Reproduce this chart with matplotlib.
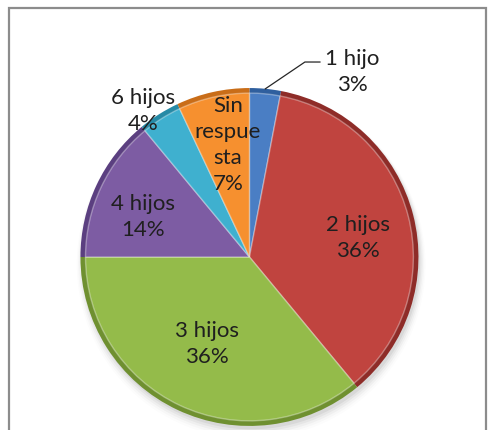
import numpy as np
import matplotlib.pyplot as plt
from matplotlib.patches import Rectangle

# data
labels = ['1 hijo', '2 hijos', '3 hijos', '4 hijos', '6 hijos', 'Sin\nrespue\nsta']
values = [3, 36, 36, 14, 4, 7]
pct_text = ['3%', '36%', '36%', '14%', '4%', '7%']

colors = ['#4a7ec4', '#c0443f', '#94bb4a', '#7d5ca3', '#3fb0cf', '#f6902f']
rims = ['#2f5f9e', '#8e2c28', '#6f9030', '#5b3f80', '#268aa6', '#c96d18']

# label block centres (data units, pie radius = 1)
label_pos = [(0.607, 1.10), (0.642, 0.118), (-0.251, -0.509),
             (-0.630, 0.243), (-0.630, 0.870), (-0.127, 0.669)]

plt.rcParams['font.family'] = ['Lato', 'DejaVu Sans']

fig = plt.figure(figsize=(4.93, 4.31), dpi=100)
ax = fig.add_axes([0, 0, 1, 1])

# soft shadow
for k, a in enumerate(np.linspace(0.05, 0.01, 5)):
    ax.add_patch(plt.Circle((0.01, -0.02 - 0.006 * k), 1.0 + 0.008 * k,
                            color='black', alpha=a, lw=0, zorder=0))

wedges, _ = ax.pie(values, startangle=90, counterclock=False, colors=rims,
                   radius=1.0, center=(0, 0), frame=True,
                   wedgeprops=dict(edgecolor='none', linewidth=0))
ax.pie(values, startangle=90, counterclock=False, colors=colors,
       radius=0.97, center=(0, 0), frame=True,
       wedgeprops=dict(edgecolor=(1, 1, 1, 0.35), linewidth=1.0))
ax.set_xlim(-1.476, 1.441)
ax.set_ylim(-1.024, 1.527)
ax.set_aspect('auto')
ax.axis('off')

for (x, y), lab, p in zip(label_pos, labels, pct_text):
    ax.text(x, y, lab + '\n' + p, ha='center', va='center',
            fontsize=16, color='#1f1f1f', linespacing=1.38, zorder=5)

# leader line for the small first slice
w = wedges[0]
mid = np.deg2rad((w.theta1 + w.theta2) / 2)
ax.plot([np.cos(mid), 0.328, 0.417], [np.sin(mid), 1.154, 1.154],
        color='#262626', lw=0.9, zorder=5)

ax.add_patch(Rectangle((0.018, -0.05), 0.968, 1.029, transform=ax.transAxes,
                       fill=False, edgecolor='#8c8c8c', lw=1.6, clip_on=False))

fig.savefig('out.png', dpi=100)
